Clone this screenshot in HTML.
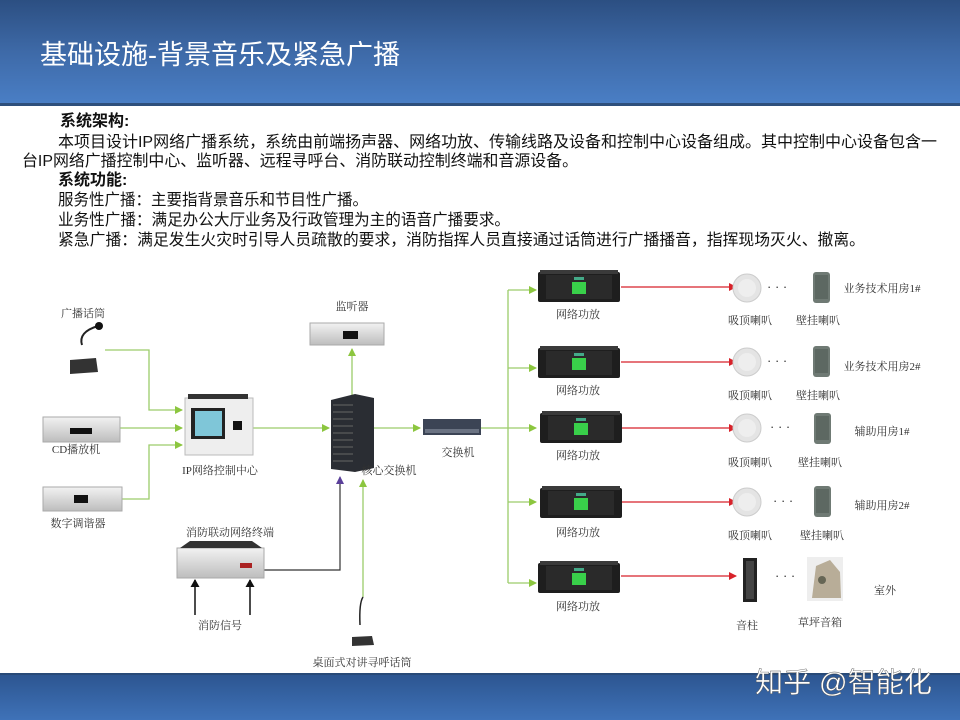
<!DOCTYPE html>
<html><head><meta charset="utf-8"><style>
html,body{margin:0;padding:0;width:960px;height:720px;overflow:hidden;background:#fff}
svg text{font-family:"Liberation Sans","Noto Sans CJK SC",sans-serif}
.s{font-family:"Liberation Serif","Noto Serif CJK SC",serif;font-size:11px;fill:#333}
</style></head><body>
<svg width="960" height="720" viewBox="0 0 960 720" xmlns="http://www.w3.org/2000/svg">
<defs>
<linearGradient id="hd" x1="0" y1="0" x2="0" y2="1"><stop offset="0" stop-color="#2c4f82"/><stop offset="0.5" stop-color="#3e6aa8"/><stop offset="1" stop-color="#4a7fc6"/></linearGradient>
<linearGradient id="ft" x1="0" y1="0" x2="0" y2="1"><stop offset="0" stop-color="#2c5590"/><stop offset="1" stop-color="#3f72b8"/></linearGradient>
<linearGradient id="silver" x1="0" y1="0" x2="0" y2="1"><stop offset="0" stop-color="#f2f2f2"/><stop offset="1" stop-color="#bdbdbd"/></linearGradient>
<marker id="ag" markerWidth="8" markerHeight="8" refX="7" refY="4" orient="auto" markerUnits="userSpaceOnUse"><path d="M0,0 L8,4 L0,8z" fill="#8cc63f"/></marker>
<marker id="ar" markerWidth="8" markerHeight="8" refX="7" refY="4" orient="auto" markerUnits="userSpaceOnUse"><path d="M0,0 L8,4 L0,8z" fill="#d8222a"/></marker>
<marker id="ak" markerWidth="8" markerHeight="9" refX="7" refY="4.5" orient="auto" markerUnits="userSpaceOnUse"><path d="M0,0 L8,4.5 L0,9z" fill="#111"/></marker>
<marker id="ap" markerWidth="8" markerHeight="8" refX="7" refY="4" orient="auto" markerUnits="userSpaceOnUse"><path d="M0,0 L8,4 L0,8z" fill="#5a3f9a"/></marker>
<g id="amp"><rect x="0" y="2" width="82" height="30" rx="2" fill="#1e1e1e"/><rect x="2" y="0" width="78" height="4" fill="#3a3a3a"/><rect x="8" y="5" width="66" height="24" fill="#2a2a2a"/><rect x="34" y="12" width="14" height="12" fill="#39d04a"/><rect x="36" y="7" width="10" height="3" fill="#4a8"/></g>
<g id="ceil"><circle cx="0" cy="0" r="14" fill="#e4e4e4" stroke="#ccc"/><circle cx="0" cy="0" r="9" fill="#eee"/></g>
<g id="wall"><rect x="0" y="0" width="17" height="31" rx="3" fill="#6f7a74"/><rect x="2" y="3" width="13" height="24" fill="#5d6862"/></g>
</defs>
<rect x="0" y="0" width="960" height="105" fill="url(#hd)"/>
<rect x="0" y="103" width="960" height="3" fill="#2e4f7c"/>
<text x="40" y="64" font-size="27" fill="#fff">基础设施-背景音乐及紧急广播</text>
<g font-size="16" fill="#111" transform="translate(0,0)">
<text x="60" y="126" font-weight="bold">系统架构:</text>
<text x="58" y="147" textLength="879" lengthAdjust="spacingAndGlyphs">本项目设计IP网络广播系统，系统由前端扬声器、网络功放、传输线路及设备和控制中心设备组成。其中控制中心设备包含一</text>
<text x="22" y="166" textLength="556" lengthAdjust="spacingAndGlyphs">台IP网络广播控制中心、监听器、远程寻呼台、消防联动控制终端和音源设备。</text>
<text x="58" y="185" font-weight="bold">系统功能:</text>
<text x="58" y="205" textLength="310" lengthAdjust="spacingAndGlyphs">服务性广播：主要指背景音乐和节目性广播。</text>
<text x="58" y="225" textLength="452" lengthAdjust="spacingAndGlyphs">业务性广播：满足办公大厅业务及行政管理为主的语音广播要求。</text>
<text x="58" y="245" textLength="807" lengthAdjust="spacingAndGlyphs">紧急广播：满足发生火灾时引导人员疏散的要求，消防指挥人员直接通过话筒进行广播播音，指挥现场灭火、撤离。</text>
</g>
<g stroke="#9ccc6a" stroke-width="1.3" fill="none">
<path d="M105,350 H149 V410 H182" marker-end="url(#ag)"/>
<path d="M120,428 H182" marker-end="url(#ag)"/>
<path d="M122,499 H149 V445 H182" marker-end="url(#ag)"/>
<path d="M253,428 H329" marker-end="url(#ag)"/>
<path d="M352,395 V349" marker-end="url(#ag)"/>
<path d="M373,428 H420" marker-end="url(#ag)"/>
<path d="M363,597 V480" marker-end="url(#ag)"/>
<path d="M480,428 H508"/>
<path d="M508,290 V583"/>
<path d="M508,290 H536" marker-end="url(#ag)"/>
<path d="M508,368 H536" marker-end="url(#ag)"/>
<path d="M508,428 H536" marker-end="url(#ag)"/>
<path d="M508,502 H536" marker-end="url(#ag)"/>
<path d="M508,583 H536" marker-end="url(#ag)"/>
</g>
<path d="M264,570 H340 V477" stroke="#333" stroke-width="1.2" fill="none" marker-end="url(#ap)"/>
<path d="M195,615 V580" stroke="#111" stroke-width="1.5" marker-end="url(#ak)"/>
<path d="M250,615 V580" stroke="#111" stroke-width="1.5" marker-end="url(#ak)"/>
<g stroke="#d8222a" stroke-width="1.3" marker-end="url(#ar)">
<path d="M621,287 H736"/><path d="M621,362 H736"/><path d="M622,428 H736"/><path d="M622,502 H736"/><path d="M621,576 H736"/>
</g>
<g><path d="M82,345 Q78,332 98,326" stroke="#222" stroke-width="2" fill="none"/><circle cx="99" cy="326" r="4" fill="#111"/><path d="M70,360 L96,358 L98,372 L70,374z" fill="#333"/></g>
<rect x="43" y="417" width="77" height="25" fill="url(#silver)" stroke="#aaa"/><rect x="70" y="428" width="22" height="6" fill="#111"/>
<rect x="43" y="487" width="79" height="24" fill="url(#silver)" stroke="#aaa"/><rect x="74" y="495" width="14" height="8" fill="#111"/>
<rect x="185" y="398" width="68" height="57" fill="#eee" stroke="#bbb"/><rect x="191" y="408" width="34" height="31" fill="#222"/><rect x="195" y="411" width="27" height="25" fill="#7fc6d8"/><rect x="233" y="421" width="9" height="9" fill="#111"/><rect x="188" y="394" width="60" height="5" fill="#333"/>
<path d="M331,400 L355,394 L374,398 L374,468 L355,472 L331,469z" fill="#2a2d33"/><g stroke="#666" stroke-width="1"><path d="M333,405 H353 M333,412 H353 M333,419 H353 M333,426 H353 M333,433 H353 M333,440 H353 M333,447 H353 M333,454 H353 M333,461 H353"/></g>
<rect x="310" y="323" width="74" height="22" fill="url(#silver)" stroke="#aaa"/><rect x="343" y="331" width="15" height="8" fill="#111"/>
<rect x="423" y="419" width="58" height="16" fill="#3c4455"/><rect x="425" y="429" width="54" height="4" fill="#6b7383"/>
<rect x="177" y="548" width="87" height="30" fill="url(#silver)" stroke="#aaa"/><path d="M180,548 L190,541 L252,541 L262,548z" fill="#333"/><rect x="240" y="563" width="12" height="5" fill="#a22"/>
<path d="M363,597 Q359,603 360,625" stroke="#222" stroke-width="1.5" fill="none"/><path d="M352,637 L372,636 L374,645 L352,646z" fill="#333"/>
<use href="#amp" x="538" y="270"/><use href="#amp" x="538" y="346"/><use href="#amp" x="540" y="411"/><use href="#amp" x="540" y="486"/><use href="#amp" x="538" y="561"/>
<use href="#ceil" x="747" y="288"/><use href="#ceil" x="747" y="362"/><use href="#ceil" x="747" y="428"/><use href="#ceil" x="747" y="502"/>
<use href="#wall" x="813" y="272"/><use href="#wall" x="813" y="346"/><use href="#wall" x="814" y="413"/><use href="#wall" x="814" y="486"/>
<rect x="743" y="558" width="14" height="44" fill="#222"/><rect x="746" y="561" width="8" height="38" fill="#444"/>
<rect x="807" y="557" width="36" height="44" fill="#eee"/><path d="M812,598 L816,566 L830,560 L840,572 L841,598z" fill="#b8ad98"/><circle cx="822" cy="580" r="4" fill="#665"/>
<g font-size="13" fill="#333"><text x="767" y="291">· · ·</text><text x="767" y="365">· · ·</text><text x="770" y="431">· · ·</text><text x="773" y="505">· · ·</text><text x="775" y="580">· · ·</text></g>
<g class="s" text-anchor="middle">
<text x="83" y="317" class="s">广播话筒</text><text x="76" y="453" class="s">CD播放机</text><text x="78" y="527" class="s">数字调谐器</text>
<text x="220" y="474" class="s">IP网络控制中心</text><text x="352" y="310" class="s">监听器</text><text x="389" y="474" class="s">核心交换机</text>
<text x="458" y="456" class="s">交换机</text><text x="230" y="536" class="s">消防联动网络终端</text><text x="220" y="629" class="s">消防信号</text>
<text x="362" y="666" class="s">桌面式对讲寻呼话筒</text>
<text x="578" y="318" class="s">网络功放</text><text x="578" y="394" class="s">网络功放</text><text x="578" y="459" class="s">网络功放</text><text x="578" y="536" class="s">网络功放</text><text x="578" y="610" class="s">网络功放</text>
<text x="750" y="324" class="s">吸顶喇叭</text><text x="818" y="324" class="s">壁挂喇叭</text>
<text x="750" y="399" class="s">吸顶喇叭</text><text x="818" y="399" class="s">壁挂喇叭</text>
<text x="750" y="466" class="s">吸顶喇叭</text><text x="820" y="466" class="s">壁挂喇叭</text>
<text x="750" y="539" class="s">吸顶喇叭</text><text x="822" y="539" class="s">壁挂喇叭</text>
<text x="747" y="629" class="s">音柱</text><text x="820" y="626" class="s">草坪音箱</text>
<text x="882" y="292" class="s">业务技术用房1#</text><text x="882" y="370" class="s">业务技术用房2#</text>
<text x="882" y="435" class="s">辅助用房1#</text><text x="882" y="509" class="s">辅助用房2#</text><text x="885" y="594" class="s">室外</text>
</g>
<rect x="0" y="674" width="960" height="46" fill="url(#ft)"/><rect x="0" y="673" width="960" height="2" fill="#284a78"/>
<text x="755" y="692" font-size="28" fill="#fff" stroke="#555" stroke-width="0.4" textLength="177" lengthAdjust="spacingAndGlyphs">知乎 @智能化</text>
</svg>
</body></html>
